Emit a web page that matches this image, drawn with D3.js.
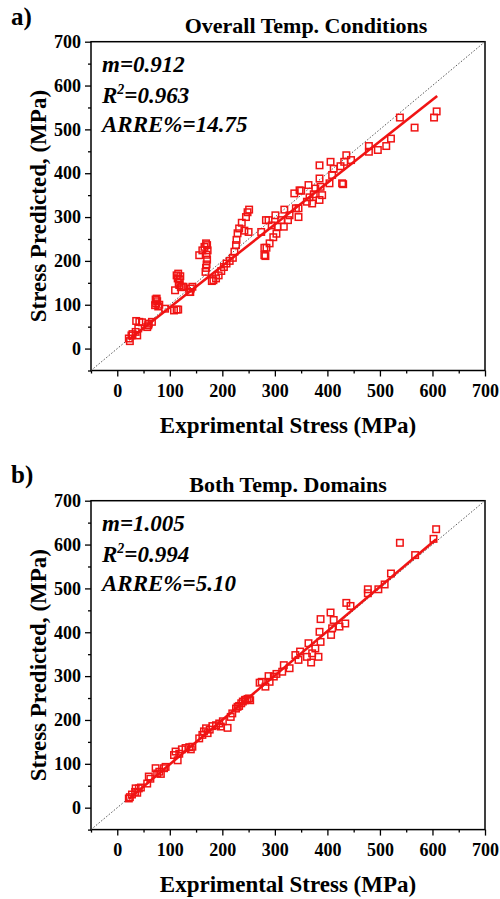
<!DOCTYPE html>
<html>
<head>
<meta charset="utf-8">
<script src="https://cdn.jsdelivr.net/npm/d3@7"></script>
<style>
  html, body { margin: 0; padding: 0; background: #fff; }
  svg { display: block; }
  text { font-family: "Liberation Serif", "Times New Roman", serif; fill: #000; }
</style>
</head>
<body>
<svg id="chart" width="500" height="899"></svg>
<script>
// ---------- DATA ----------
const majorTicks = [0, 100, 200, 300, 400, 500, 600, 700];
const minorTicks = [-50, 50, 150, 250, 350, 450, 550, 650];
const axisDomain = [-50, 700];

const panelLabels = ["a)", "b)"];
const panelTitles = ["Overall Temp. Conditions", "Both Temp. Domains"];
const xTitle = "Exprimental Stress (MPa)";
const yTitle = "Stress Predicted, (MPa)";

const statsA = { m: "0.912", r2: "0.963", arre: "14.75" };
const statsB = { m: "1.005", r2: "0.994", arre: "5.10" };

// experimental vs predicted stress, panel a
const pointsA = [
  [22,23],[24,17],[27,30],[29,33],[35,38],[38,30],[40,46],[36,63],[42,61],[47,60],[57,49],[59,53],[60,57],[66,61],
  [72,99],[73,112],[74,103],[76,108],[78,96],[80,100],[75,114],[91,91],
  [108,87],[113,89],[116,89],[110,133],[113,167],[115,160],[116,171],[117,150],[118,145],[119,158],[120,165],[121,140],[123,141],[126,141],
  [137,129],[139,129],[140,137],[143,141],
  [156,213],[162,224],[166,232],[169,240],[171,236],[172,224],[170,214],[171,203],[170,192],[169,184],[168,175],
  [180,154],[183,156],[188,160],[193,167],[198,177],[203,186],[208,194],[214,200],
  [220,207],[223,221],[226,236],[227,248],[229,263],[232,274],[237,287],[242,269],[245,300],[248,311],[251,317],[250,266],
  [274,266],[280,213],[282,211],[280,230],[284,230],[283,293],[288,293],[290,240],[294,281],[297,254],[301,304],[303,262],
  [305,278],[312,293],[317,278],[318,317],[325,293],[328,304],[337,354],[340,320],[345,300],[345,320],[347,361],[350,360],
  [361,335],[364,373],[366,345],[371,331],[374,352],[377,365],[385,339],[387,369],[385,388],[385,418],[390,350],
  [404,377],[406,426],[409,396],[412,410],[425,416],[428,377],[430,375],[432,426],[436,441],[445,430],
  [479,462],[479,449],[496,453],[512,462],[521,479],[538,527],[566,504],[603,527],[608,541]
];
const fitA = [[22,20],[609,576]];

// experimental vs predicted stress, panel b
const pointsB = [
  [22,21],[24,24],[28,30],[34,36],[35,44],[38,34],[41,44],[45,46],[57,55],[60,71],[63,66],[73,90],[76,78],[80,82],[83,77],[89,90],[92,93],
  [108,120],[111,128],[115,108],[118,123],[123,133],[130,136],[137,138],[140,133],[143,139],
  [156,158],[162,166],[165,174],[169,181],[172,170],[176,178],[181,186],[188,188],[194,192],[197,185],[201,197],[210,182],
  [216,207],[219,215],[226,226],[229,230],[232,232],[236,238],[239,242],[244,246],[248,248],[251,249],[243,245],[253,245],
  [271,285],[275,287],[282,276],[288,300],[290,287],[298,299],[303,305],[314,310],[317,325],[328,318],[339,348],[345,337],[348,356],
  [361,344],[364,375],[369,331],[371,352],[377,363],[383,344],[387,378],[385,401],[387,430],
  [406,445],[407,394],[409,409],[412,428],[423,413],[434,420],[436,467],[444,460],
  [477,489],[477,498],[497,498],[509,509],[521,534],[538,604],[567,576],[602,613],[607,635]
];
const fitB = [[22,20],[607,612]];

// ---------- DRAWING ----------
const svg = d3.select("#chart");
const RED = "#f01414";

function drawPanel(cfg) {
  const x = d3.scaleLinear().domain(axisDomain).range([91, 485]);
  const y = d3.scaleLinear().domain(axisDomain).range([cfg.bottom, cfg.top]);
  const g = svg.append("g");

  // panel label
  g.append("text").attr("x", 11).attr("y", cfg.labelY)
    .attr("font-size", 25).attr("font-weight", "bold").text(cfg.label);
  // title
  g.append("text").attr("x", cfg.titleX).attr("y", cfg.top - 9)
    .attr("text-anchor", "middle").attr("font-size", 22).attr("font-weight", "bold").text(cfg.title);

  // axes
  const styleAxis = sel => {
    sel.select(".domain").remove();
    sel.selectAll(".tick line").attr("stroke", "#000").attr("stroke-width", 1.3);
    sel.selectAll(".tick text").attr("font-size", 18).attr("font-weight", "bold")
      .attr("font-family", '"Liberation Serif", serif').attr("fill", "#000");
  };
  g.append("g").attr("transform", `translate(0,${cfg.bottom})`)
    .call(d3.axisBottom(x).tickValues(majorTicks).tickSize(6).tickPadding(8).tickFormat(d3.format("d")))
    .call(styleAxis);
  g.append("g").attr("transform", `translate(0,${cfg.bottom})`)
    .call(d3.axisBottom(x).tickValues(minorTicks).tickSize(3).tickFormat(""))
    .call(styleAxis);
  g.append("g").attr("transform", `translate(91,0)`)
    .call(d3.axisLeft(y).tickValues(majorTicks).tickSize(6).tickPadding(4).tickFormat(d3.format("d")))
    .call(styleAxis);
  g.append("g").attr("transform", `translate(91,0)`)
    .call(d3.axisLeft(y).tickValues(minorTicks).tickSize(3).tickFormat(""))
    .call(styleAxis);

  // frame
  g.append("rect").attr("x", x(axisDomain[0])).attr("y", y(axisDomain[1]))
    .attr("width", x(axisDomain[1]) - x(axisDomain[0]))
    .attr("height", y(axisDomain[0]) - y(axisDomain[1]))
    .attr("fill", "none").attr("stroke", "#000").attr("stroke-width", 1.5);

  // diagonal y = x
  g.append("line")
    .attr("x1", x(axisDomain[0])).attr("y1", y(axisDomain[0]))
    .attr("x2", x(axisDomain[1])).attr("y2", y(axisDomain[1]))
    .attr("stroke", "#444").attr("stroke-width", 0.9).attr("stroke-dasharray", "1.5,1.8");

  // fit line
  g.append("path").datum(cfg.fit)
    .attr("d", d3.line().x(d => x(d[0])).y(d => y(d[1])))
    .attr("stroke", RED).attr("stroke-width", 2.6).attr("fill", "none");

  // points
  const s = 6.5;
  g.append("g").selectAll("rect").data(cfg.points).join("rect")
    .attr("x", d => x(d[0]) - s / 2).attr("y", d => y(d[1]) - s / 2)
    .attr("width", s).attr("height", s)
    .attr("fill", "none").attr("stroke", RED).attr("stroke-width", 1.5);

  // annotations
  const ann = g.append("g").attr("font-size", 23).attr("font-weight", "bold").attr("font-style", "italic");
  ann.append("text").attr("x", 102).attr("y", cfg.top + 30).text("m=" + cfg.stats.m);
  const r = ann.append("text").attr("x", 102).attr("y", cfg.top + 61);
  r.append("tspan").text("R");
  r.append("tspan").attr("font-size", 14).attr("dy", -9).text("2");
  r.append("tspan").attr("dy", 9).text("=" + cfg.stats.r2);
  ann.append("text").attr("x", 102).attr("y", cfg.top + 90).text("ARRE%=" + cfg.stats.arre);

  // axis titles
  g.append("text").attr("x", 288).attr("y", cfg.bottom + 62)
    .attr("text-anchor", "middle").attr("font-size", 23).attr("font-weight", "bold").text(xTitle);
  g.append("text").attr("transform", `translate(46,${(cfg.top + cfg.bottom) / 2}) rotate(-90)`)
    .attr("text-anchor", "middle").attr("font-size", 23).attr("font-weight", "bold").text(yTitle);
}

drawPanel({ top: 41.7, bottom: 370.5, label: panelLabels[0], labelY: 25, title: panelTitles[0], titleX: 306,
            stats: statsA, points: pointsA, fit: fitA });
drawPanel({ top: 500.7, bottom: 829.6, label: panelLabels[1], labelY: 483, title: panelTitles[1], titleX: 288,
            stats: statsB, points: pointsB, fit: fitB });
</script>
</body>
</html>
